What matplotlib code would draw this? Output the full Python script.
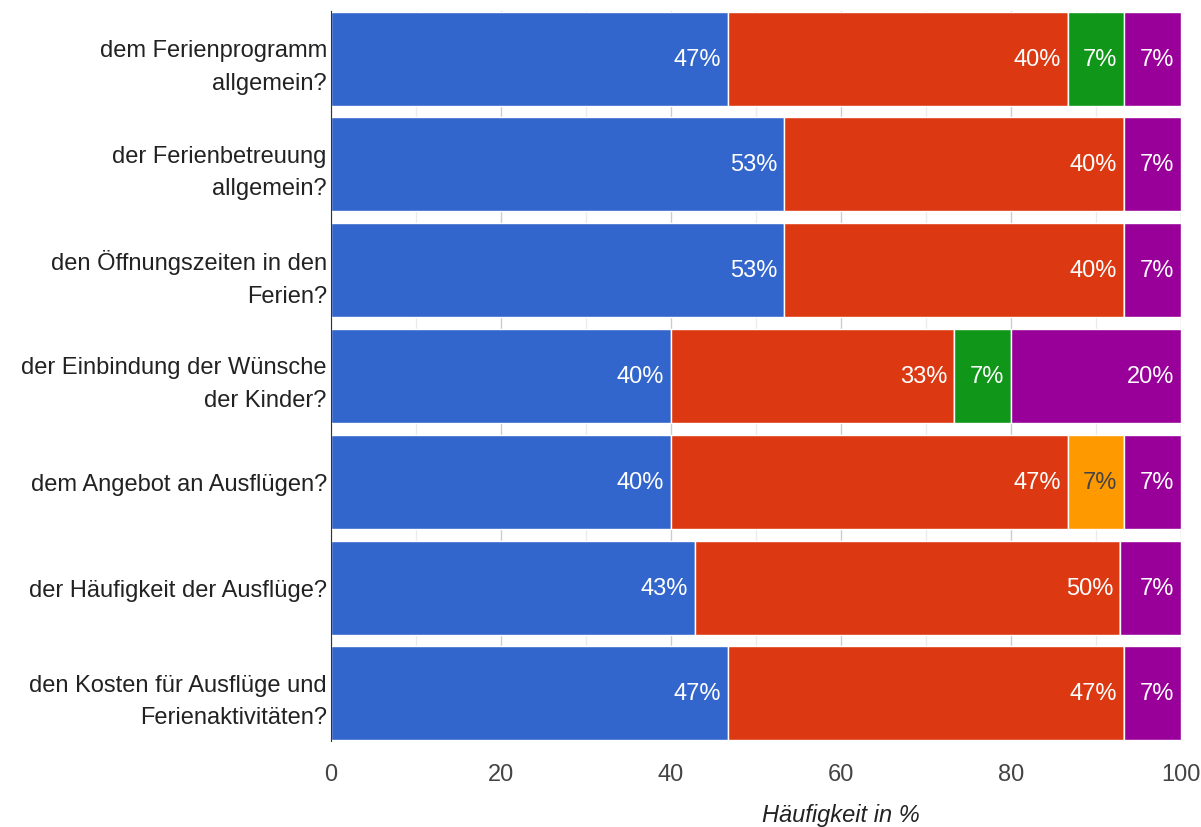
import matplotlib
matplotlib.use("Agg")
import matplotlib.pyplot as plt
import numpy as np

plt.rcParams['font.family'] = ['Liberation Sans', 'DejaVu Sans']

categories = [
    "dem Ferienprogramm\nallgemein?",
    "der Ferienbetreuung\nallgemein?",
    "den Öffnungszeiten in den\nFerien?",
    "der Einbindung der Wünsche\nder Kinder?",
    "dem Angebot an Ausflügen?",
    "der Häufigkeit der Ausflüge?",
    "den Kosten für Ausflüge und\nFerienaktivitäten?",
]
blue = [46.67, 53.33, 53.33, 40.0, 40.0, 42.86, 46.67]
red = [40.0, 40.0, 40.0, 33.33, 46.67, 50.0, 46.67]
orange = [0, 0, 0, 0, 6.67, 0, 0]
green = [6.67, 0, 0, 6.67, 0, 0, 0]
purple = [6.67, 6.67, 6.67, 20.0, 6.67, 7.14, 6.67]
xticks = [0, 20, 40, 60, 80, 100]
xlabel = "Häufigkeit in %"

series = [
    (blue, "#3366CC", "white"),
    (red, "#DC3912", "white"),
    (orange, "#FF9900", "#444444"),
    (green, "#109618", "white"),
    (purple, "#990099", "white"),
]

FS = 17

fig = plt.figure(figsize=(12.01, 8.28), dpi=100)
ax = fig.add_axes([331/1201, 1-742/828, 850/1201, 730/828])

y = np.arange(len(categories))
left = np.zeros(len(categories))
h = 0.89
for vals, col, tcol in series:
    vals = np.array(vals, dtype=float)
    ax.barh(y, vals, left=left, height=h, color=col, edgecolor="white", linewidth=1, zorder=3)
    for i, v in enumerate(vals):
        if v > 0:
            ax.annotate(f"{round(v):d}%", xy=(left[i] + v, y[i]), xytext=(-5, 0),
                        textcoords="offset points", ha="right", va="center",
                        color=tcol, fontsize=FS, zorder=4)
    left += vals

ax.set_xlim(0, 100)
ax.set_ylim(len(categories) - 1 + h/2 + 0.005, -h/2 - 0.005)
ax.set_yticks(y)
ax.set_yticklabels(categories, fontsize=FS, color="#222222", linespacing=1.62)
ax.set_xticks(xticks)
ax.set_xticklabels([str(t) for t in xticks], fontsize=FS, color="#444444")
ax.set_xticks([10, 30, 50, 70, 90], minor=True)
ax.tick_params(axis="both", length=0, which="both")
ax.tick_params(axis="x", pad=16)
ax.tick_params(axis="y", pad=3)
ax.grid(axis="x", which="major", color="#cccccc", linewidth=1, zorder=0)
ax.grid(axis="x", which="minor", color="#ebebeb", linewidth=1, zorder=0)
for s in ["top", "right", "bottom"]:
    ax.spines[s].set_visible(False)
ax.spines["left"].set_color("#333333")
ax.spines["left"].set_zorder(5)
ax.set_xlabel(xlabel, fontsize=FS, style="italic", color="#222222", va="center")
ax.xaxis.set_label_coords(0.6, -74/730)

fig.savefig("out.png", dpi=100)
